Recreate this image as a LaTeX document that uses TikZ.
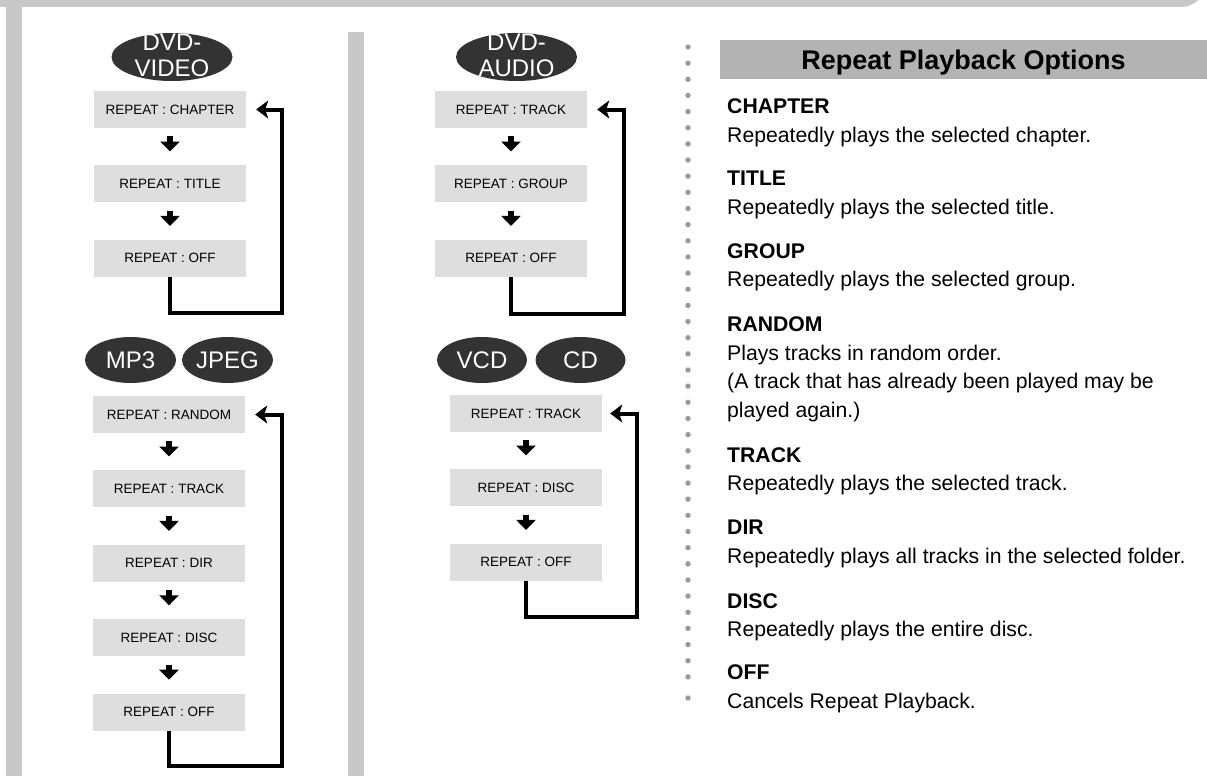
\documentclass[tikz,border=0pt]{standalone}
\usepackage{fontspec}
\setmainfont{Liberation Sans}
\usetikzlibrary{positioning,calc,arrows.meta,shapes.geometric}
\definecolor{bandgray}{RGB}{200,200,200}
\definecolor{headgray}{RGB}{179,179,179}
\definecolor{boxgray}{RGB}{222,222,222}
\definecolor{discgray}{RGB}{51,51,51}
\definecolor{dotgray}{RGB}{153,153,153}
\tikzset{
  disc/.style={ellipse, fill=discgray, text=white, inner xsep=0pt, inner ysep=-8pt, align=center, font=\fontsize{24}{26.7}\selectfont},
  disctext/.style={text=white, inner sep=0pt, align=center, font=\fontsize{24}{26.7}\selectfont},
  stepbox/.style={fill=boxgray, minimum width=152pt, minimum height=37pt, inner sep=0pt, font=\fontsize{13.5}{15}\selectfont},
  stepline/.style={line width=6pt, -{Triangle[length=10pt,width=19pt]}},
  loopline/.style={line width=4pt, -{Stealth[length=12pt,width=18pt,inset=3pt]}},
  optname/.style={anchor=base west, inner sep=0pt, font=\fontsize{21.2}{28.5}\selectfont\bfseries},
  opttext/.style={anchor=base west, inner sep=0pt, font=\fontsize{21.2}{28.5}\selectfont},
}
\begin{document}
\begin{tikzpicture}[x=1pt, y=-1pt, node distance=37pt]
  \useasboundingbox (0,0) rectangle (1207,776);
  % page frame
  \fill[bandgray] (0,0) -- (1198,0) .. controls (1192,6) and (1187,7) .. (1178,7) -- (0,7) -- cycle;
  \fill[bandgray] (6,0) rectangle (22,776);
  \fill[bandgray] (348,32) rectangle (364,776);
  \foreach \k in {0,...,39} \fill[dotgray] (688,{47+16.15*\k}) circle (2.7pt);
  \fill[dotgray] (688,698) circle (2.7pt);

  % DVD-VIDEO
  \node[disc, minimum width=121pt, minimum height=48pt] (dvdv) at (172,57) {};
  \node[disctext, yshift=1.5pt] (dvdvt) at (dvdv) {DVD-\\VIDEO};
  \node[stepbox] (a1) at (170,109.5) {REPEAT : CHAPTER};
  \node[stepbox, below=of a1] (a2) {REPEAT : TITLE};
  \node[stepbox, below=of a2] (a3) {REPEAT : OFF};
  \draw[stepline] ($(a1.south)!0.22!(a2.north)$) -- ($(a1.south)!0.63!(a2.north)$);
  \draw[stepline] ($(a2.south)!0.22!(a3.north)$) -- ($(a2.south)!0.63!(a3.north)$);
  \draw[loopline] (a3.south) -- ++(0,36) -| ([xshift=35.5pt]a1.east) -- ([xshift=10pt]a1.east);

  % MP3 / JPEG
  \node[disc, minimum width=91pt, minimum height=46pt] (mp3) at (130.5,360) {MP3};
  \node[disc, minimum width=91pt, minimum height=46pt] (jpeg) at (227.5,360) {JPEG};
  \node[stepbox] (b1) at (169,414.5) {REPEAT : RANDOM};
  \node[stepbox, below=of b1] (b2) {REPEAT : TRACK};
  \node[stepbox, below=of b2] (b3) {REPEAT : DIR};
  \node[stepbox, below=of b3] (b4) {REPEAT : DISC};
  \node[stepbox, below=of b4] (b5) {REPEAT : OFF};
  \foreach \p/\q in {b1/b2, b2/b3, b3/b4, b4/b5}
    \draw[stepline] ($(\p.south)!0.22!(\q.north)$) -- ($(\p.south)!0.63!(\q.north)$);
  \draw[loopline] (b5.south) -- ++(0,35) -| ([xshift=36.5pt]b1.east) -- ([xshift=10pt]b1.east);

  % DVD-AUDIO
  \node[disc, minimum width=121pt, minimum height=48pt] (dvda) at (516.5,57) {};
  \node[disctext, yshift=1.5pt] (dvdat) at (dvda) {DVD-\\AUDIO};
  \node[stepbox] (c1) at (511,109.5) {REPEAT : TRACK};
  \node[stepbox, below=of c1] (c2) {REPEAT : GROUP};
  \node[stepbox, below=of c2] (c3) {REPEAT : OFF};
  \draw[stepline] ($(c1.south)!0.22!(c2.north)$) -- ($(c1.south)!0.63!(c2.north)$);
  \draw[stepline] ($(c2.south)!0.22!(c3.north)$) -- ($(c2.south)!0.63!(c3.north)$);
  \draw[loopline] (c3.south) -- ++(0,37) -| ([xshift=37pt]c1.east) -- ([xshift=10pt]c1.east);

  % VCD / CD
  \node[disc, minimum width=90pt, minimum height=46pt] (vcd) at (482,360) {VCD};
  \node[disc, minimum width=90pt, minimum height=46pt] (cd) at (580.5,360) {CD};
  \node[stepbox] (d1) at (526,413.5) {REPEAT : TRACK};
  \node[stepbox, below=of d1] (d2) {REPEAT : DISC};
  \node[stepbox, below=of d2] (d3) {REPEAT : OFF};
  \draw[stepline] ($(d1.south)!0.22!(d2.north)$) -- ($(d1.south)!0.63!(d2.north)$);
  \draw[stepline] ($(d2.south)!0.22!(d3.north)$) -- ($(d2.south)!0.63!(d3.north)$);
  \draw[loopline] (d3.south) -- ++(0,36) -| ([xshift=35pt]d1.east) -- ([xshift=8pt]d1.east);

  % options list
  \node[fill=headgray, minimum width=487pt, minimum height=39pt, inner sep=0pt, text height=19.3pt, text depth=0pt,
        font=\fontsize{27}{30}\selectfont\bfseries] (head) at (963.5,59.5) {Repeat Playback Options};
  \node[optname] (chap) at (727,113) {CHAPTER};   \node[opttext] (chapt) at (727,142) {Repeatedly plays the selected chapter.};
  \node[optname] (titl) at (727,185) {TITLE};     \node[opttext] (titlt) at (727,214) {Repeatedly plays the selected title.};
  \node[optname] (grp)  at (727,258) {GROUP};     \node[opttext] (grpt)  at (727,286) {Repeatedly plays the selected group.};
  \node[optname] (rand) at (727,331) {RANDOM};    \node[opttext] (randt) at (727,360) {Plays tracks in random order.};
  \node[opttext] (randu) at (727,388) {(A track that has already been played may be};
  \node[opttext] (randv) at (727,417) {played again.)};
  \node[optname] (trk)  at (727,462) {TRACK};     \node[opttext] (trkt)  at (727,490) {Repeatedly plays the selected track.};
  \node[optname] (dir)  at (727,534) {DIR};       \node[opttext] (dirt)  at (727,563) {Repeatedly plays all tracks in the selected folder.};
  \node[optname] (disc) at (727,608) {DISC};      \node[opttext] (disct) at (727,636) {Repeatedly plays the entire disc.};
  \node[optname] (off)  at (727,679) {OFF};       \node[opttext] (offt)  at (727,708) {Cancels Repeat Playback.};
\end{tikzpicture}
\end{document}
